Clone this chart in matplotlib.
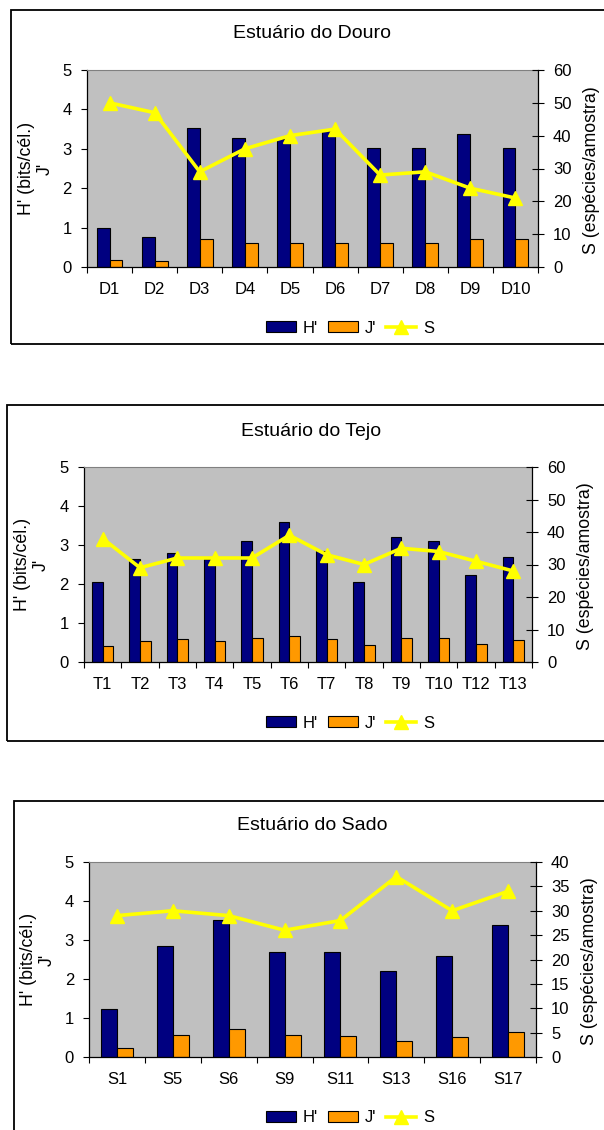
import matplotlib

matplotlib.use("Agg")
import matplotlib.pyplot as plt
import numpy as np
from matplotlib.lines import Line2D
from matplotlib.patches import Patch, Rectangle

plt.rcParams["font.family"] = ["Liberation Sans", "DejaVu Sans"]
plt.rcParams["font.size"] = 12

# Estuário do Douro
douro_sites = ["D1", "D2", "D3", "D4", "D5", "D6", "D7", "D8", "D9", "D10"]
douro_h = [1.00, 0.75, 3.52, 3.27, 3.26, 3.45, 3.02, 3.02, 3.37, 3.02]
douro_j = [0.17, 0.14, 0.72, 0.62, 0.60, 0.62, 0.62, 0.62, 0.72, 0.70]
douro_s = [50, 47, 29, 36, 40, 42, 28, 29, 24, 21]

# Estuário do Tejo
tejo_sites = ["T1", "T2", "T3", "T4", "T5", "T6", "T7", "T8", "T9", "T10", "T12", "T13"]
tejo_h = [2.05, 2.63, 2.80, 2.65, 3.10, 3.59, 2.85, 2.04, 3.20, 3.10, 2.23, 2.70]
tejo_j = [0.40, 0.55, 0.58, 0.53, 0.62, 0.67, 0.58, 0.43, 0.62, 0.62, 0.45, 0.57]
tejo_s = [38, 29, 32, 32, 32, 39, 33, 30, 35, 34, 31, 28]

# Estuário do Sado
sado_sites = ["S1", "S5", "S6", "S9", "S11", "S13", "S16", "S17"]
sado_h = [1.24, 2.84, 3.51, 2.69, 2.69, 2.21, 2.60, 3.38]
sado_j = [0.23, 0.57, 0.72, 0.57, 0.54, 0.41, 0.52, 0.64]
sado_s = [29, 30, 29, 26, 28, 37, 30, 34]

W, H = 604, 1130
NAVY = "#000080"
ORANGE = "#FF9900"
YELLOW = "#FFFF00"
SILVER = "#C0C0C0"
BAR_W = 0.286
TICK_FS = 12
LABEL_FS = 12.8
TITLE_FS = 14
LINE_W = 2.6
MARKER = 10


def fx(px):
    return px / W


def fy(py):
    return 1 - py / H


def draw_panel(fig, title, sites, h, j, s, s_max, s_step, lay):
    border = lay["border"]
    fig.add_artist(Rectangle(
        (fx(border[0]), fy(border[3])),
        fx(border[2]) - fx(border[0]), fy(border[1]) - fy(border[3]),
        transform=fig.transFigure, fill=False, ec="black", lw=1.3,
    ))

    left, right, top, bottom = lay["plot"]
    ax = fig.add_axes([fx(left), fy(bottom), fx(right) - fx(left), fy(top) - fy(bottom)])
    ax.set_facecolor(SILVER)
    n = len(sites)
    x = np.arange(n)
    ax.bar(x - BAR_W / 2, h, width=BAR_W, color=NAVY, edgecolor="black", linewidth=0.8, zorder=2)
    ax.bar(x + BAR_W / 2, j, width=BAR_W, color=ORANGE, edgecolor="black", linewidth=0.8, zorder=2)
    ax.set_xlim(-0.5, n - 0.5)
    ax.set_ylim(0, 5)
    ax.set_yticks(range(6))
    ax.set_xticks(x, sites)
    ax.set_xticks(np.arange(n + 1) - 0.5, minor=True)
    ax.tick_params(axis="x", which="major", length=0, pad=11, labelsize=TICK_FS)
    ax.tick_params(axis="x", which="minor", length=4.3, width=0.8, direction="out")
    ax.tick_params(axis="y", length=4.3, width=0.8, direction="out", pad=6.5, labelsize=TICK_FS)
    for side in ("left", "bottom"):
        ax.spines[side].set_color("black")
        ax.spines[side].set_linewidth(0.9)
    ax.spines["top"].set_color("#808080")
    ax.spines["right"].set_visible(False)

    # S on the secondary axis, drawn over the bars
    ax2 = ax.twinx()
    ax2.plot(x, s, color=YELLOW, lw=LINE_W, marker="^", ms=MARKER, mec=YELLOW, zorder=3)
    ax2.set_ylim(0, s_max)
    ax2.set_yticks(np.arange(0, s_max + 1, s_step))
    ax2.tick_params(axis="y", length=8.6, width=0.8, direction="inout", pad=6.5, labelsize=TICK_FS)
    for side in ("left", "bottom", "top"):
        ax2.spines[side].set_visible(False)
    ax2.spines["right"].set_color("black")
    ax2.spines["right"].set_linewidth(0.9)

    yc = (top + bottom) / 2
    fig.text(fx(lay["title"][0]), fy(lay["title"][1]), title, ha="center", va="center",
             fontsize=TITLE_FS)
    fig.text(fx(lay["hlab"]), fy(yc), "H' (bits/cél.)\nJ'", rotation=90, fontsize=LABEL_FS,
             ha="center", va="center", multialignment="center", linespacing=1.15)
    fig.text(fx(lay["slab"]), fy(yc + 2), "S (espécies/amostra)", rotation=90,
             fontsize=LABEL_FS, ha="center", va="center")

    handles = [
        Patch(facecolor=NAVY, edgecolor="black", linewidth=0.8),
        Patch(facecolor=ORANGE, edgecolor="black", linewidth=0.8),
        Line2D([], [], color=YELLOW, lw=LINE_W, marker="^", ms=MARKER, mec=YELLOW),
    ]
    fig.legend(handles, ["H'", "J'", "S"], loc="center", fontsize=TICK_FS,
               bbox_to_anchor=(fx(lay["legend"][0]), fy(lay["legend"][1])),
               ncol=3, frameon=False, handlelength=1.8, handleheight=0.64,
               handletextpad=0.42, columnspacing=0.6, borderaxespad=0, borderpad=0)


fig = plt.figure(figsize=(W / 100, H / 100), dpi=100)

draw_panel(fig, "Estuário do Douro", douro_sites, douro_h, douro_j, douro_s, 60, 10, {
    "border": (11, 10, 640, 344), "plot": (87, 538, 70, 267),
    "title": (312, 34), "legend": (350, 328), "hlab": 36, "slab": 591,
})
draw_panel(fig, "Estuário do Tejo", tejo_sites, tejo_h, tejo_j, tejo_s, 60, 10, {
    "border": (7, 405, 640, 741), "plot": (84, 532, 467, 662),
    "title": (311, 431), "legend": (350, 723), "hlab": 32, "slab": 585,
})
draw_panel(fig, "Estuário do Sado", sado_sites, sado_h, sado_j, sado_s, 40, 5, {
    "border": (14, 801, 640, 1160), "plot": (89, 536, 862, 1057),
    "title": (312, 825), "legend": (350, 1118), "hlab": 38, "slab": 590,
})

fig.savefig("out.png", dpi=100)
